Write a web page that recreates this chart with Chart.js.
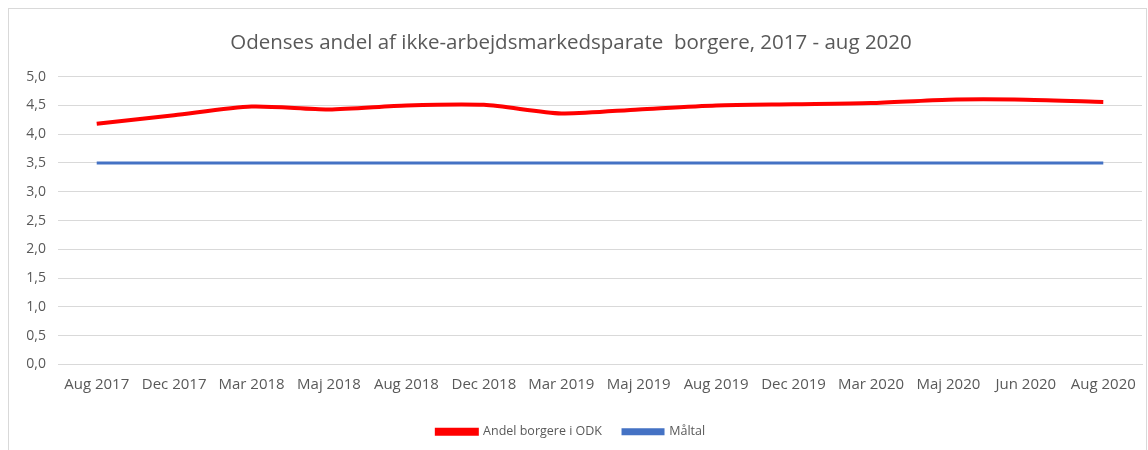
<!DOCTYPE html>
<html lang="da">
<head>
    <meta charset="UTF-8">
    <title>Odenses andel af ikke-arbejdsmarkedsparate borgere</title>
    <style>
        html, body {
            margin: 0;
            padding: 0;
            background: #fff;
        }
        .container {
            width: 1148px;
            height: 450px;
            position: relative;
        }
    </style>
</head>
<body>
    <div class="container">
        <canvas id="line-graph"></canvas>
    </div>
    <script src="https://cdn.jsdelivr.net/npm/chart.js"></script>

    <script>
        // DATA
        const labels = [
            "Aug 2017", "Dec 2017", "Mar 2018", "Maj 2018", "Aug 2018", "Dec 2018", "Mar 2019",
            "Maj 2019", "Aug 2019", "Dec 2019", "Mar 2020", "Maj 2020", "Jun 2020", "Aug 2020"
        ]

        const andelData = [4.18, 4.33, 4.48, 4.43, 4.50, 4.51, 4.36, 4.43, 4.50, 4.52, 4.54, 4.60, 4.60, 4.56]
        const maaltalData = [3.5, 3.5, 3.5, 3.5, 3.5, 3.5, 3.5, 3.5, 3.5, 3.5, 3.5, 3.5, 3.5, 3.5]

        const seriesNames = ["Andel borgere i ODK", "Måltal"]
        const titleText = "Odenses andel af ikke-arbejdsmarkedsparate  borgere, 2017 - aug 2020"
    </script>

    <script>
        const textColor = '#595959';
        const gridColor = '#d9d9d9';
        const fontFamily = "'Open Sans', 'Noto Sans', sans-serif";

        // thin frame round the chart, like the excel chart area
        const framePlugin = {
            id: 'frame',
            beforeDraw(chart) {
                const ctx = chart.ctx;
                ctx.save();
                ctx.strokeStyle = '#d9d9d9';
                ctx.lineWidth = 1;
                ctx.strokeRect(8.5, 8.5, chart.width - 10, chart.height + 10);
                ctx.restore();
            }
        };

        const config = {
            type: 'line',
            data: {
                labels: labels,
                datasets: [
                    {
                        label: seriesNames[0],
                        data: andelData,
                        borderColor: '#ff0000',
                        backgroundColor: '#ff0000',
                        borderWidth: 4,
                        pointRadius: 0,
                        tension: 0.25
                    },
                    {
                        label: seriesNames[1],
                        data: maaltalData,
                        borderColor: '#4472c4',
                        backgroundColor: '#4472c4',
                        borderWidth: 3,
                        pointRadius: 0
                    }
                ]
            },
            options: {
                responsive: true,
                maintainAspectRatio: false,
                animation: false,
                layout: {
                    padding: { left: 0, right: 6, top: 0, bottom: 2 }
                },
                scales: {
                    x: {
                        offset: true,
                        grid: { display: false, drawTicks: false },
                        border: { color: gridColor },
                        ticks: {
                            color: textColor,
                            padding: 11,
                            maxRotation: 0,
                            autoSkip: false,
                            font: { family: fontFamily, size: 15 }
                        }
                    },
                    y: {
                        min: 0,
                        max: 5,
                        afterFit: (scale) => { scale.width = 58; },
                        grid: { color: gridColor, drawTicks: false },
                        border: { display: false },
                        ticks: {
                            stepSize: 0.5,
                            color: textColor,
                            padding: 12,
                            font: { family: fontFamily, size: 14 },
                            callback: (value) => value.toFixed(1).replace('.', ',')
                        }
                    }
                },
                plugins: {
                    title: {
                        display: true,
                        text: titleText,
                        color: textColor,
                        font: { family: fontFamily, size: 20.5, weight: 'normal' },
                        padding: { top: 31, bottom: 21 }
                    },
                    legend: {
                        position: 'bottom',
                        labels: {
                            color: textColor,
                            boxWidth: 40,
                            boxHeight: 4,
                            padding: 21,
                            font: { family: fontFamily, size: 12.5 }
                        }
                    },
                    tooltip: { enabled: false }
                }
            },
            plugins: [framePlugin]
        };

        new Chart(document.getElementById('line-graph'), config);
    </script>
</body>
</html>
